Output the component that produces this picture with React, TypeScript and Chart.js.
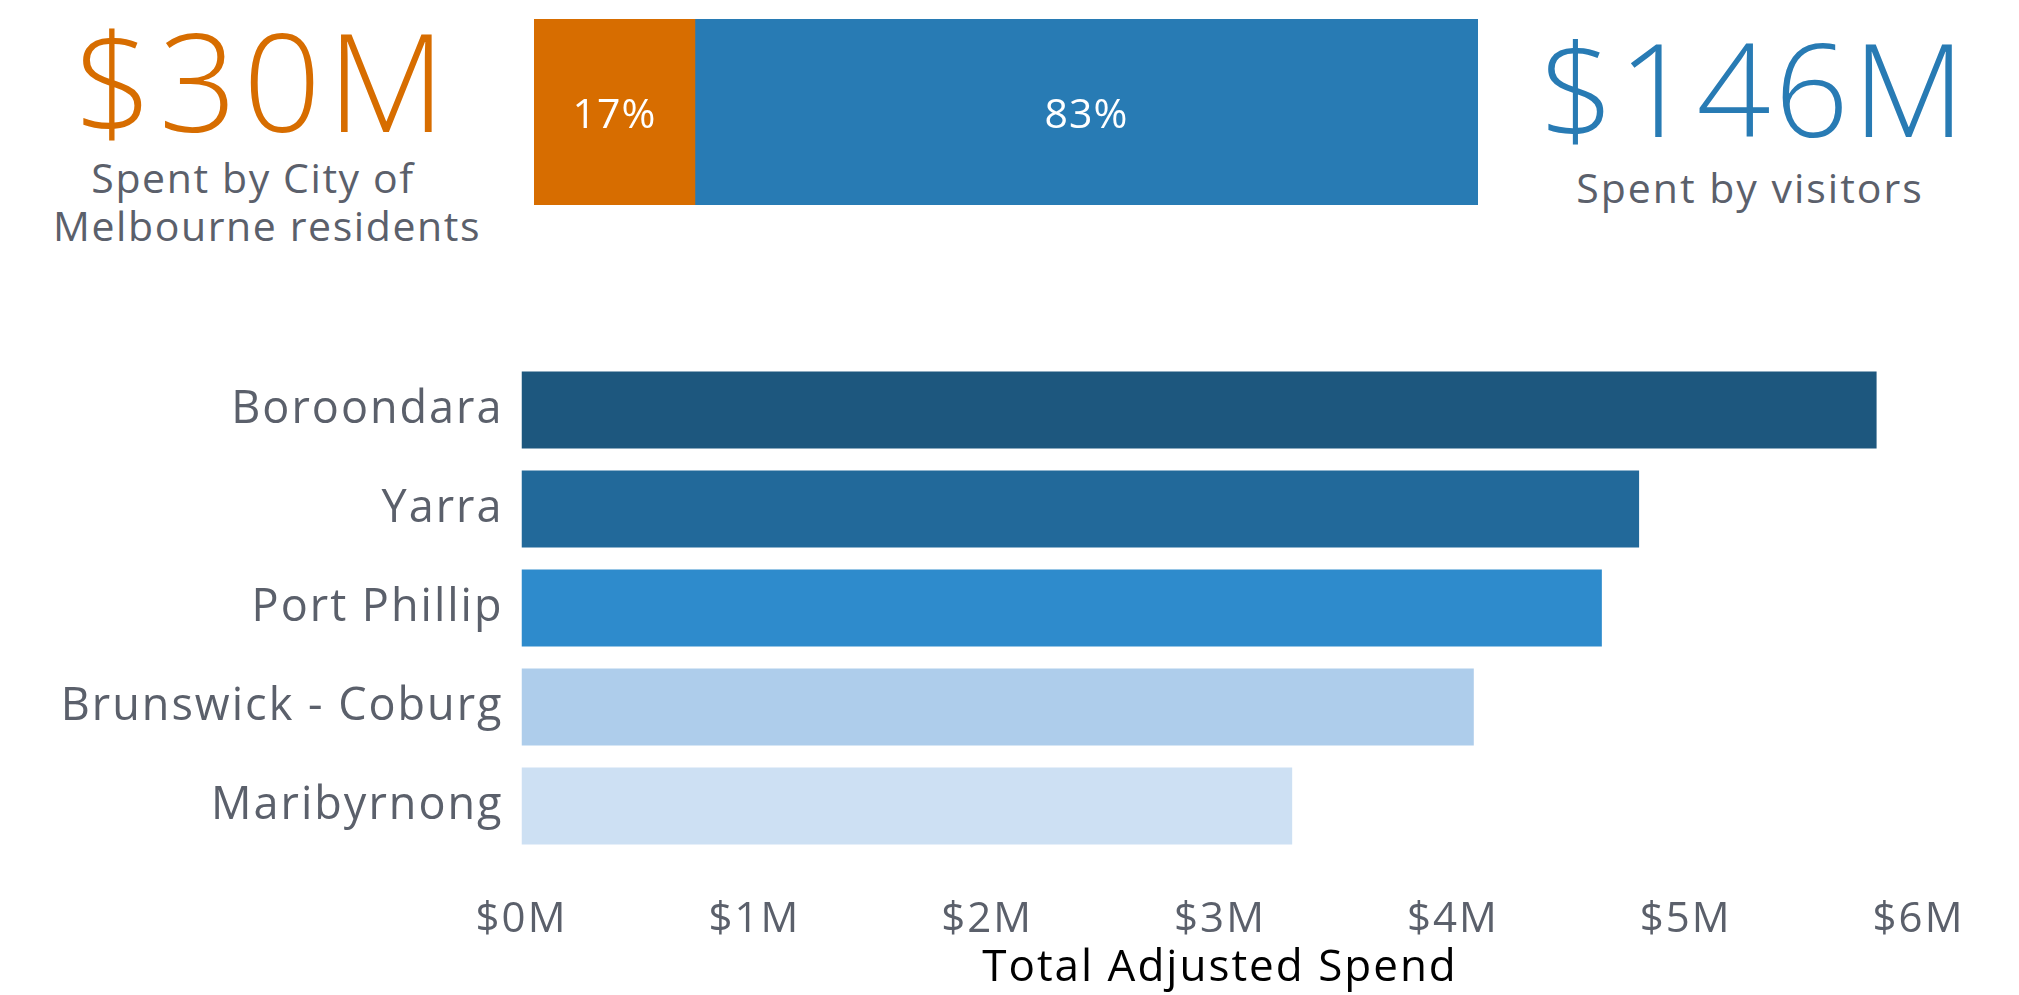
import React, { useEffect, useRef } from 'react';
import { Chart, registerables } from 'chart.js';

Chart.register(...registerables);

const FONT = '"Open Sans", "Noto Sans", sans-serif';
const GREY = '#5b606b';
const ORANGE = '#d76d00';
const BLUE = '#287bb4';

// Top share bar ($M)
const shareLabels = ['Total spend'];
const residentSpend = [30];
const visitorSpend = [146];

// Bottom region bars ($M)
const regions = ['Boroondara', 'Yarra', 'Port Phillip', 'Brunswick - Coburg', 'Maribyrnong'];
const regionSpend = [5.82, 4.8, 4.64, 4.09, 3.31];
const regionColors = ['#1d577e', '#22699a', '#2e8bcc', '#aecdeb', '#cde0f3'];
const xAxisMin = 0;
const xAxisMax = 6;

const spacingPlugin = (px: string) => ({
  id: 'letterSpacing',
  beforeUpdate(chart: any) {
    chart.ctx.letterSpacing = px;
  },
  beforeDraw(chart: any) {
    chart.ctx.letterSpacing = px;
  },
});

const pctPlugin = {
  id: 'pctLabels',
  afterDatasetsDraw(chart: any) {
    const ctx = chart.ctx;
    const total = chart.data.datasets.reduce((s: number, d: any) => s + d.data[0], 0);
    ctx.save();
    ctx.fillStyle = '#ffffff';
    ctx.font = `400 41px ${FONT}`;
    ctx.letterSpacing = '1px';
    ctx.textAlign = 'center';
    ctx.textBaseline = 'middle';
    chart.data.datasets.forEach((d: any, i: number) => {
      const el = chart.getDatasetMeta(i).data[0];
      const cx = (el.x + el.base) / 2;
      ctx.fillText(`${Math.round((d.data[0] / total) * 100)}%`, cx, el.y + 4);
    });
    ctx.restore();
  },
};

export default function App() {
  const topRef = useRef<HTMLCanvasElement>(null);
  const botRef = useRef<HTMLCanvasElement>(null);

  useEffect(() => {
    document.body.style.margin = '0';
    const total = residentSpend[0] + visitorSpend[0];
    const top = new Chart(topRef.current as HTMLCanvasElement, {
      type: 'bar',
      data: {
        labels: shareLabels,
        datasets: [
          { label: 'Residents', data: residentSpend, backgroundColor: ORANGE, borderWidth: 0, barPercentage: 1, categoryPercentage: 1 },
          { label: 'Visitors', data: visitorSpend, backgroundColor: BLUE, borderWidth: 0, barPercentage: 1, categoryPercentage: 1 },
        ],
      },
      options: {
        indexAxis: 'y',
        responsive: false,
        animation: false,
        layout: { padding: 0 },
        plugins: { legend: { display: false }, tooltip: { enabled: false } },
        scales: {
          x: { stacked: true, display: false, min: 0, max: total },
          y: { stacked: true, display: false },
        },
      },
      plugins: [pctPlugin],
    } as any);

    const bot = new Chart(botRef.current as HTMLCanvasElement, {
      type: 'bar',
      data: {
        labels: regions,
        datasets: [
          { label: 'Total Adjusted Spend', data: regionSpend, backgroundColor: regionColors, borderWidth: 0, barPercentage: 0.78, categoryPercentage: 1 },
        ],
      },
      options: {
        indexAxis: 'y',
        responsive: false,
        animation: false,
        layout: { padding: { top: 20.5, right: 100.5, bottom: 0, left: 0 } },
        plugins: { legend: { display: false }, tooltip: { enabled: false } },
        scales: {
          x: {
            min: xAxisMin,
            max: xAxisMax,
            ticks: {
              stepSize: 1,
              callback: (v: any) => `$${v}M`,
              color: GREY,
              font: { family: FONT, size: 42 },
              padding: 39,
              maxRotation: 0,
            },
            grid: { display: false, drawTicks: false },
            border: { display: false },
            title: {
              display: true,
              text: 'Total Adjusted Spend',
              color: '#000000',
              font: { family: FONT, size: 44 },
              padding: { top: 0, bottom: 0 },
            },
            afterFit: (s: any) => {
              s.height = 139.5;
              s.paddingLeft = 0;
              s.paddingRight = 0;
            },
          },
          y: {
            ticks: { color: GREY, font: { family: FONT, size: 45 }, padding: 18 },
            grid: { display: false, drawTicks: false },
            border: { display: false },
            afterFit: (s: any) => {
              s.width = 521.5;
              s.paddingTop = 0;
              s.paddingBottom = 0;
            },
          },
        },
      },
      plugins: [spacingPlugin('2px')],
    } as any);

    return () => {
      top.destroy();
      bot.destroy();
    };
  }, []);

  const big = (color: string, size: number, ls: number): React.CSSProperties => ({
    position: 'absolute',
    fontFamily: FONT,
    fontWeight: 300,
    fontSize: size,
    lineHeight: 1,
    letterSpacing: ls,
    color,
    textAlign: 'center',
    whiteSpace: 'nowrap',
  });
  const sub: React.CSSProperties = {
    position: 'absolute',
    fontFamily: FONT,
    fontWeight: 400,
    fontSize: 41,
    lineHeight: '48px',
    letterSpacing: 1.6,
    color: GREY,
    textAlign: 'center',
    whiteSpace: 'nowrap',
  };

  return (
    <div style={{ position: 'relative', width: 2019, height: 995, background: '#fff', overflow: 'hidden' }}>
      <div style={{ ...big(ORANGE, 137, 6), left: 63, width: 400, top: 11 }}>$30M</div>
      <div style={{ ...sub, left: 53, width: 400, top: 153 }}>
        Spent by City of
        <br />
        Melbourne residents
      </div>
      <canvas ref={topRef} width={944} height={186} style={{ position: 'absolute', left: 534, top: 19 }} />
      <div style={{ ...big(BLUE, 130, 4), left: 1540, width: 400, top: 22 }}>$146M</div>
      <div style={{ ...sub, left: 1550, width: 400, top: 163, letterSpacing: 2 }}>Spent by visitors</div>
      <canvas ref={botRef} width={2019} height={655} style={{ position: 'absolute', left: 0, top: 340 }} />
    </div>
  );
}
